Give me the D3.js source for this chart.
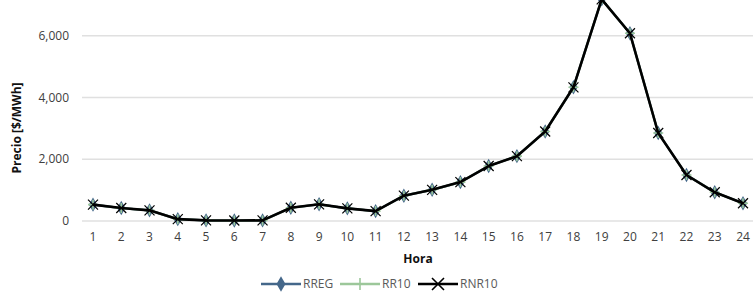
<!DOCTYPE html>
<html lang="es">
<head>
<meta charset="UTF-8">
<title>Precio por hora</title>
<style>
  body { margin: 0; background: #fff; }
  svg { display: block; font-family: "Open Sans", "Noto Sans", sans-serif; }
</style>
</head>
<body>
<svg id="svg"></svg>
<script src="https://d3js.org/d3.v7.min.js"></script>
<script>
// datos
const horas = d3.range(1, 25);
const rreg  = [530, 420, 345, 60, 20, 15, 20, 430, 540, 410, 320, 820, 1010, 1260, 1780, 2100, 2900, 4330, 7180, 6080, 2850, 1490, 930, 575];
const rr10  = [530, 420, 345, 60, 20, 15, 20, 430, 540, 410, 320, 820, 1010, 1260, 1780, 2100, 2900, 4330, 7180, 6080, 2850, 1490, 930, 575];
const rnr10 = [530, 420, 345, 60, 20, 15, 20, 430, 540, 410, 320, 820, 1010, 1260, 1780, 2100, 2900, 4330, 7180, 6080, 2850, 1490, 930, 575];
const yTicks = [0, 2000, 4000, 6000];

const series = [
  {name: "RREG",  values: rreg,  color: "#44678a", marker: "diamond"},
  {name: "RR10",  values: rr10,  color: "#9cc79a", marker: "plus"},
  {name: "RNR10", values: rnr10, color: "#000000", marker: "x"}
];

const width = 753, height = 297;
const svg = d3.select("#svg").attr("width", width).attr("height", height);

const x = d3.scalePoint().domain(horas).range([93, 743]);
const y = d3.scaleLinear().domain([0, 8000]).range([221, -26]);

// lineas de cuadricula
svg.append("g").selectAll("line")
  .data(yTicks)
  .join("line")
  .attr("x1", 82).attr("x2", width)
  .attr("y1", d => y(d)).attr("y2", d => y(d))
  .attr("stroke", "#e0e0e0").attr("stroke-width", 1.3);

// etiquetas eje y
svg.append("g").selectAll("text")
  .data(yTicks)
  .join("text")
  .attr("x", 69).attr("y", d => y(d))
  .attr("dy", "0.35em")
  .attr("text-anchor", "end")
  .attr("font-size", 12)
  .attr("fill", "#404040")
  .text(d => d3.format(",")(d));

// etiquetas eje x
svg.append("g").selectAll("text")
  .data(horas)
  .join("text")
  .attr("x", d => x(d)).attr("y", 237)
  .attr("dy", "0.35em")
  .attr("text-anchor", "middle")
  .attr("font-size", 12)
  .attr("fill", "#404040")
  .text(d => d);

// titulos
svg.append("text")
  .attr("x", 418).attr("y", 259)
  .attr("dy", "0.35em")
  .attr("text-anchor", "middle")
  .attr("font-size", 12).attr("font-weight", "bold")
  .attr("fill", "#111")
  .text("Hora");

svg.append("text")
  .attr("transform", "translate(17,128) rotate(-90)")
  .attr("dy", "0.35em")
  .attr("text-anchor", "middle")
  .attr("font-size", 12).attr("font-weight", "bold")
  .attr("fill", "#111")
  .text("Precio [$/MWh]");

// marcadores
function drawMarker(g, type, color, cx, cy) {
  if (type === "diamond") {
    g.append("path")
      .attr("d", d3.symbol(d3.symbolDiamond, 60)())
      .attr("transform", `translate(${cx},${cy})`)
      .attr("fill", color);
  } else if (type === "plus") {
    g.append("path")
      .attr("d", `M${cx-5},${cy}H${cx+5}M${cx},${cy-5}V${cy+5}`)
      .attr("stroke", color).attr("stroke-width", 1.6);
  } else {
    g.append("path")
      .attr("d", `M${cx-5},${cy-5}L${cx+5},${cy+5}M${cx-5},${cy+5}L${cx+5},${cy-5}`)
      .attr("stroke", color).attr("stroke-width", 1.2);
  }
}

const line = d3.line().x((d, i) => x(horas[i])).y(d => y(d));

series.forEach((s, si) => {
  const g = svg.append("g");
  g.append("path")
    .datum(s.values)
    .attr("d", line)
    .attr("fill", "none")
    .attr("stroke", s.color)
    .attr("stroke-width", si === 2 ? 2.6 : 2.2)
    .attr("stroke-linejoin", "round");
  s.values.forEach((v, i) => drawMarker(g, s.marker, s.color, x(horas[i]), y(v)));
});

// leyenda
const legendX = [261, 340, 418];
const legend = svg.append("g");
series.forEach((s, i) => {
  const lx = legendX[i], ly = 284;
  legend.append("line")
    .attr("x1", lx).attr("x2", lx + 40)
    .attr("y1", ly).attr("y2", ly)
    .attr("stroke", s.color).attr("stroke-width", i === 2 ? 2.6 : 2.4);
  if (s.marker === "diamond") {
    legend.append("path")
      .attr("d", d3.symbol(d3.symbolDiamond, 70)())
      .attr("transform", `translate(${lx + 20},${ly})`)
      .attr("fill", s.color);
  } else if (s.marker === "plus") {
    legend.append("path")
      .attr("d", `M${lx+20},${ly-6}V${ly+6}`)
      .attr("stroke", s.color).attr("stroke-width", 1.6);
  } else {
    legend.append("path")
      .attr("d", `M${lx+14},${ly-6}L${lx+26},${ly+6}M${lx+14},${ly+6}L${lx+26},${ly-6}`)
      .attr("stroke", s.color).attr("stroke-width", 1.6);
  }
  legend.append("text")
    .attr("x", lx + 42).attr("y", ly)
    .attr("dy", "0.35em")
    .attr("font-size", 12)
    .attr("fill", "#595959")
    .text(s.name);
});
</script>
</body>
</html>
